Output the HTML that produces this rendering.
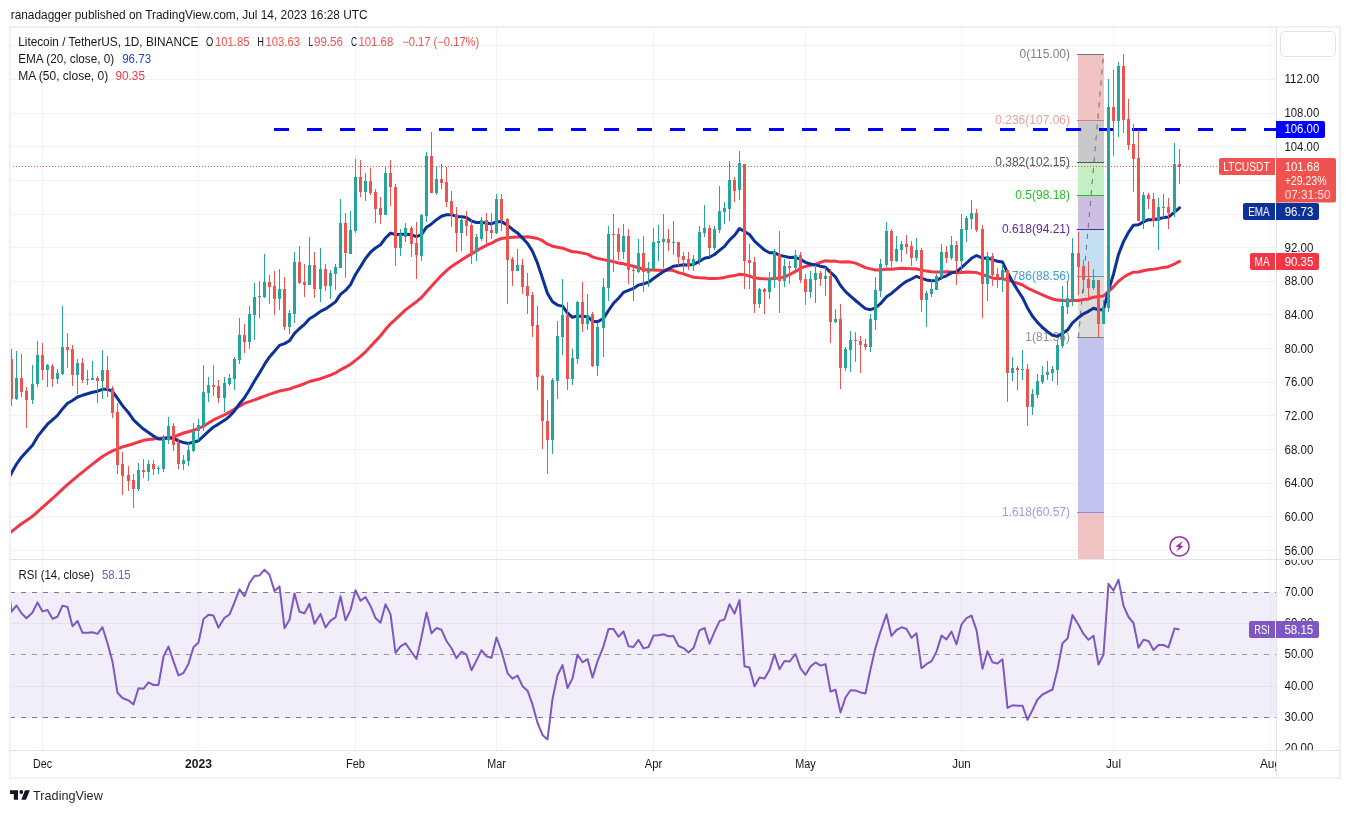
<!DOCTYPE html><html><head><meta charset="utf-8"><title>LTCUSDT</title><style>html,body{margin:0;padding:0;background:#fff;}body{width:1350px;height:813px;overflow:hidden;font-family:"Liberation Sans",sans-serif;}svg{display:block;will-change:transform}</style></head><body><svg width="1350" height="813" viewBox="0 0 1350 813" font-family="Liberation Sans, sans-serif" font-size="12">
<defs>
<clipPath id="cm"><rect x="10" y="27" width="1266" height="532"/></clipPath>
<clipPath id="cr"><rect x="10" y="560" width="1266" height="190"/></clipPath>
<clipPath id="cra"><rect x="1277" y="560" width="63" height="190"/></clipPath>
<clipPath id="ct"><rect x="10" y="751" width="1266" height="26"/></clipPath>
</defs>
<rect x="0" y="0" width="1350" height="813" fill="#ffffff"/>
<text x="10.70" y="19.00" fill="#131722" font-size="12.5" textLength="357.00" lengthAdjust="spacingAndGlyphs">ranadagger published on TradingView.com, Jul 14, 2023 16:28 UTC</text>
<g shape-rendering="crispEdges">
<rect x="42" y="27" width="1" height="532" fill="#f1f3f2"/>
<rect x="42" y="560" width="1" height="190" fill="#f1f3f2"/>
<rect x="198" y="27" width="1" height="532" fill="#f1f3f2"/>
<rect x="198" y="560" width="1" height="190" fill="#f1f3f2"/>
<rect x="355" y="27" width="1" height="532" fill="#f1f3f2"/>
<rect x="355" y="560" width="1" height="190" fill="#f1f3f2"/>
<rect x="496" y="27" width="1" height="532" fill="#f1f3f2"/>
<rect x="496" y="560" width="1" height="190" fill="#f1f3f2"/>
<rect x="653" y="27" width="1" height="532" fill="#f1f3f2"/>
<rect x="653" y="560" width="1" height="190" fill="#f1f3f2"/>
<rect x="805" y="27" width="1" height="532" fill="#f1f3f2"/>
<rect x="805" y="560" width="1" height="190" fill="#f1f3f2"/>
<rect x="961" y="27" width="1" height="532" fill="#f1f3f2"/>
<rect x="961" y="560" width="1" height="190" fill="#f1f3f2"/>
<rect x="1113" y="27" width="1" height="532" fill="#f1f3f2"/>
<rect x="1113" y="560" width="1" height="190" fill="#f1f3f2"/>
<rect x="1270" y="27" width="1" height="532" fill="#f1f3f2"/>
<rect x="1270" y="560" width="1" height="190" fill="#f1f3f2"/>
<rect x="10" y="45" width="1266" height="1" fill="#f1f3f2"/>
<rect x="10" y="79" width="1266" height="1" fill="#f1f3f2"/>
<rect x="10" y="113" width="1266" height="1" fill="#f1f3f2"/>
<rect x="10" y="146" width="1266" height="1" fill="#f1f3f2"/>
<rect x="10" y="180" width="1266" height="1" fill="#f1f3f2"/>
<rect x="10" y="214" width="1266" height="1" fill="#f1f3f2"/>
<rect x="10" y="247" width="1266" height="1" fill="#f1f3f2"/>
<rect x="10" y="281" width="1266" height="1" fill="#f1f3f2"/>
<rect x="10" y="314" width="1266" height="1" fill="#f1f3f2"/>
<rect x="10" y="348" width="1266" height="1" fill="#f1f3f2"/>
<rect x="10" y="382" width="1266" height="1" fill="#f1f3f2"/>
<rect x="10" y="415" width="1266" height="1" fill="#f1f3f2"/>
<rect x="10" y="449" width="1266" height="1" fill="#f1f3f2"/>
<rect x="10" y="483" width="1266" height="1" fill="#f1f3f2"/>
<rect x="10" y="516" width="1266" height="1" fill="#f1f3f2"/>
<rect x="10" y="550" width="1266" height="1" fill="#f1f3f2"/>
<rect x="10" y="623" width="1266" height="1" fill="#f1f3f2"/>
<rect x="10" y="686" width="1266" height="1" fill="#f1f3f2"/>
</g>
<rect x="10" y="592" width="1266" height="126" fill="#7e57c2" fill-opacity="0.1"/>
<g clip-path="url(#cm)">
<g shape-rendering="crispEdges">
<rect x="1078" y="54" width="26" height="66" fill="#f2c3c3"/>
<rect x="1078" y="120" width="26" height="42" fill="#c9c9cd"/>
<rect x="1078" y="162" width="26" height="33" fill="#c3efc3"/>
<rect x="1078" y="195" width="26" height="34" fill="#cdbfe1"/>
<rect x="1078" y="229" width="26" height="47" fill="#c5e0f3"/>
<rect x="1078" y="276" width="26" height="61" fill="#dcdcdc"/>
<rect x="1078" y="337" width="26" height="175" fill="#c3c3f0"/>
<rect x="1078" y="512" width="26" height="47" fill="#f1c2c2"/>
<rect x="1077" y="54" width="27" height="1" fill="#757575"/>
<rect x="1077" y="120" width="27" height="1" fill="#e0787b"/>
<rect x="1077" y="162" width="27" height="1" fill="#50535e"/>
<rect x="1077" y="195" width="27" height="1" fill="#22c322"/>
<rect x="1077" y="229" width="27" height="1" fill="#5b2a9d"/>
<rect x="1077" y="276" width="27" height="1" fill="#3d9bd8"/>
<rect x="1077" y="337" width="27" height="1" fill="#808080"/>
<rect x="1077" y="512" width="27" height="1" fill="#8a8ae0"/>
</g>
<line x1="1078.5" y1="337.5" x2="1103.5" y2="54.5" stroke="#75777f" stroke-width="1.1" stroke-dasharray="5 6"/>
<text x="1070.00" y="58.30" fill="#808080" font-size="12" text-anchor="end">0(115.00)</text>
<text x="1070.00" y="124.30" fill="#e8a0a0" font-size="12" text-anchor="end">0.236(107.06)</text>
<text x="1070.00" y="166.30" fill="#50535e" font-size="12" text-anchor="end">0.382(102.15)</text>
<text x="1070.00" y="199.30" fill="#22c322" font-size="12" text-anchor="end">0.5(98.18)</text>
<text x="1070.00" y="233.30" fill="#5b2a9d" font-size="12" text-anchor="end">0.618(94.21)</text>
<text x="1070.00" y="280.30" fill="#3d9bd8" font-size="12" text-anchor="end">0.786(88.56)</text>
<text x="1070.00" y="341.30" fill="#909090" font-size="12" text-anchor="end">1(81.36)</text>
<text x="1070.00" y="516.30" fill="#9c9ce6" font-size="12" text-anchor="end">1.618(60.57)</text>
</g>
<line x1="274" y1="129.5" x2="1276" y2="129.5" stroke="#0000ff" stroke-width="3" stroke-dasharray="15 18" shape-rendering="crispEdges"/>
<g clip-path="url(#cm)" fill="none" stroke-linejoin="round" stroke-linecap="round">
<path d="M6.5,535.5 L11.5,531.6 L16.5,527.6 L21.5,523.8 L26.5,520.5 L32.5,516.3 L37.5,511.8 L42.5,507.4 L47.5,502.9 L52.5,498.5 L57.5,493.9 L62.5,489.2 L67.5,484.7 L72.5,480.4 L77.5,476.1 L82.5,472.1 L87.5,468.1 L92.5,464.1 L97.5,460.3 L102.5,456.5 L107.5,453.5 L112.5,450.9 L117.5,448.8 L122.5,446.9 L128.5,445.2 L133.5,443.7 L138.5,442.0 L143.5,440.3 L148.5,439.6 L153.5,438.9 L158.5,438.3 L163.5,437.9 L168.5,437.5 L173.5,437.0 L178.5,435.0 L183.5,433.0 L188.5,431.7 L193.5,430.3 L198.5,428.3 L203.5,426.2 L208.5,423.1 L213.5,419.9 L218.5,417.5 L224.5,414.8 L229.5,412.2 L234.5,409.0 L239.5,406.1 L244.5,403.2 L249.5,401.6 L254.5,399.9 L259.5,398.0 L264.5,396.1 L269.5,394.4 L274.5,392.7 L279.5,391.0 L284.5,390.0 L289.5,389.0 L294.5,387.1 L299.5,385.5 L304.5,383.7 L309.5,381.5 L314.5,380.3 L320.5,378.7 L325.5,376.9 L330.5,375.1 L335.5,372.9 L340.5,369.8 L345.5,367.2 L350.5,364.2 L355.5,360.4 L360.5,356.4 L365.5,351.8 L370.5,346.4 L375.5,341.1 L380.5,335.7 L385.5,329.5 L390.5,323.8 L395.5,319.3 L400.5,314.7 L405.5,309.9 L411.5,305.4 L416.5,301.7 L421.5,297.5 L426.5,291.7 L431.5,286.3 L436.5,280.7 L441.5,275.3 L446.5,270.7 L451.5,266.5 L456.5,263.3 L461.5,260.0 L466.5,256.8 L471.5,253.9 L476.5,251.0 L481.5,247.8 L486.5,245.3 L491.5,243.2 L496.5,240.4 L501.5,238.5 L507.5,237.7 L512.5,237.2 L517.5,236.9 L522.5,236.9 L527.5,236.8 L532.5,237.5 L537.5,238.5 L542.5,240.7 L547.5,244.2 L552.5,246.2 L557.5,247.2 L562.5,248.2 L567.5,250.0 L572.5,251.8 L577.5,252.1 L582.5,253.1 L587.5,254.1 L592.5,256.9 L597.5,258.4 L603.5,259.6 L608.5,260.7 L613.5,261.6 L618.5,263.0 L623.5,263.8 L628.5,265.1 L633.5,266.2 L638.5,267.8 L643.5,269.5 L648.5,269.9 L653.5,270.1 L658.5,270.3 L663.5,270.3 L668.5,270.0 L673.5,270.6 L678.5,272.6 L683.5,273.9 L688.5,275.6 L693.5,277.2 L699.5,277.8 L704.5,278.1 L709.5,278.4 L714.5,278.5 L719.5,278.3 L724.5,277.4 L729.5,276.2 L734.5,275.6 L739.5,274.3 L744.5,274.8 L749.5,276.1 L754.5,277.8 L759.5,278.4 L764.5,278.8 L769.5,279.0 L774.5,278.4 L779.5,278.1 L784.5,276.9 L789.5,274.7 L795.5,271.4 L800.5,268.2 L805.5,266.4 L810.5,265.3 L815.5,264.4 L820.5,262.4 L825.5,260.8 L830.5,261.2 L835.5,261.1 L840.5,262.1 L845.5,261.8 L850.5,262.1 L855.5,263.1 L860.5,265.3 L865.5,267.6 L870.5,268.9 L875.5,270.0 L880.5,269.9 L886.5,269.1 L891.5,269.3 L896.5,268.8 L901.5,268.3 L906.5,268.4 L911.5,268.7 L916.5,269.0 L921.5,270.1 L926.5,271.1 L931.5,271.8 L936.5,272.1 L941.5,271.9 L946.5,271.8 L951.5,272.1 L956.5,272.7 L961.5,272.4 L966.5,272.1 L971.5,272.2 L976.5,272.6 L982.5,274.7 L987.5,276.0 L992.5,278.2 L997.5,278.5 L1002.5,278.7 L1007.5,280.0 L1012.5,281.6 L1017.5,283.2 L1022.5,285.0 L1027.5,288.1 L1032.5,290.4 L1037.5,292.7 L1042.5,294.8 L1047.5,297.2 L1052.5,299.0 L1057.5,300.1 L1062.5,300.6 L1067.5,301.1 L1072.5,300.6 L1078.5,300.4 L1083.5,299.5 L1088.5,298.9 L1093.5,297.2 L1098.5,296.6 L1103.5,296.0 L1108.5,291.3 L1113.5,286.8 L1118.5,281.3 L1123.5,277.3 L1128.5,274.3 L1133.5,272.2 L1138.5,272.0 L1143.5,270.7 L1148.5,269.7 L1153.5,269.2 L1158.5,268.4 L1163.5,267.4 L1168.5,266.7 L1174.5,264.0 L1179.5,261.4" stroke="#f23645" stroke-width="3"/>
<path d="M6.5,482.1 L11.5,473.1 L16.5,464.1 L21.5,457.2 L26.5,451.7 L32.5,445.3 L37.5,436.7 L42.5,430.3 L47.5,424.2 L52.5,419.8 L57.5,415.4 L62.5,408.9 L67.5,403.2 L72.5,400.5 L77.5,397.0 L82.5,395.3 L87.5,393.8 L92.5,392.3 L97.5,391.2 L102.5,389.3 L107.5,389.2 L112.5,391.3 L117.5,398.3 L122.5,405.6 L128.5,412.7 L133.5,419.9 L138.5,424.7 L143.5,429.1 L148.5,432.5 L153.5,435.9 L158.5,439.0 L163.5,439.0 L168.5,437.8 L173.5,438.4 L178.5,440.8 L183.5,442.6 L188.5,443.4 L193.5,442.3 L198.5,440.7 L203.5,436.1 L208.5,431.3 L213.5,427.0 L218.5,424.1 L224.5,420.3 L229.5,416.3 L234.5,410.9 L239.5,403.7 L244.5,397.8 L249.5,389.8 L254.5,381.0 L259.5,373.0 L264.5,364.4 L269.5,356.9 L274.5,351.3 L279.5,345.4 L284.5,343.6 L289.5,340.8 L294.5,333.3 L299.5,328.5 L304.5,324.3 L309.5,318.7 L314.5,315.8 L320.5,311.4 L325.5,308.9 L330.5,305.5 L335.5,301.9 L340.5,294.4 L345.5,290.4 L350.5,284.7 L355.5,274.5 L360.5,266.6 L365.5,258.5 L370.5,252.2 L375.5,248.0 L380.5,244.8 L385.5,238.0 L390.5,233.1 L395.5,234.5 L400.5,234.5 L405.5,233.9 L411.5,234.8 L416.5,236.7 L421.5,234.7 L426.5,227.2 L431.5,223.9 L436.5,219.7 L441.5,216.2 L446.5,214.7 L451.5,214.7 L456.5,216.4 L461.5,216.8 L466.5,217.6 L471.5,221.0 L476.5,222.6 L481.5,222.4 L486.5,223.1 L491.5,224.0 L496.5,221.7 L501.5,221.6 L507.5,225.1 L512.5,229.4 L517.5,232.9 L522.5,238.0 L527.5,243.4 L532.5,251.3 L537.5,263.2 L542.5,278.2 L547.5,293.5 L552.5,301.8 L557.5,305.1 L562.5,306.1 L567.5,313.0 L572.5,317.3 L577.5,315.9 L582.5,316.6 L587.5,316.5 L592.5,321.2 L597.5,321.8 L603.5,318.5 L608.5,310.5 L613.5,303.3 L618.5,298.3 L623.5,292.4 L628.5,290.3 L633.5,288.4 L638.5,285.1 L643.5,283.8 L648.5,282.3 L653.5,278.5 L658.5,275.0 L663.5,271.6 L668.5,268.8 L673.5,266.3 L678.5,265.4 L683.5,264.8 L688.5,264.9 L693.5,264.4 L699.5,261.3 L704.5,258.2 L709.5,257.2 L714.5,254.5 L719.5,250.4 L724.5,246.4 L729.5,240.1 L734.5,235.4 L739.5,228.5 L744.5,231.6 L749.5,234.5 L754.5,241.1 L759.5,245.7 L764.5,250.0 L769.5,252.7 L774.5,252.7 L779.5,255.3 L784.5,256.4 L789.5,257.5 L795.5,257.3 L800.5,259.4 L805.5,262.4 L810.5,264.0 L815.5,264.9 L820.5,266.2 L825.5,267.2 L830.5,272.4 L835.5,276.9 L840.5,285.5 L845.5,291.6 L850.5,296.2 L855.5,300.5 L860.5,304.7 L865.5,308.6 L870.5,309.7 L875.5,307.8 L880.5,303.7 L886.5,296.8 L891.5,293.4 L896.5,289.2 L901.5,284.9 L906.5,281.3 L911.5,279.0 L916.5,276.3 L921.5,278.4 L926.5,279.9 L931.5,280.8 L936.5,280.4 L941.5,277.7 L946.5,275.8 L951.5,272.9 L956.5,271.7 L961.5,267.7 L966.5,263.0 L971.5,258.3 L976.5,255.5 L982.5,258.2 L987.5,258.0 L992.5,259.6 L997.5,261.2 L1002.5,262.1 L1007.5,272.5 L1012.5,281.7 L1017.5,290.0 L1022.5,297.6 L1027.5,307.9 L1032.5,316.2 L1037.5,322.4 L1042.5,327.5 L1047.5,331.7 L1052.5,335.3 L1057.5,336.3 L1062.5,333.4 L1067.5,330.1 L1072.5,322.8 L1078.5,317.5 L1083.5,313.8 L1088.5,311.3 L1093.5,308.3 L1098.5,309.8 L1103.5,309.7 L1108.5,290.4 L1113.5,274.2 L1118.5,254.4 L1123.5,241.6 L1128.5,232.3 L1133.5,225.2 L1138.5,224.8 L1143.5,221.9 L1148.5,219.7 L1153.5,219.8 L1158.5,218.7 L1163.5,217.6 L1168.5,217.1 L1174.5,212.1 L1179.5,207.8" stroke="#0c3299" stroke-width="3"/>
</g>
<g shape-rendering="crispEdges" clip-path="url(#cm)">
<rect x="11" y="349" width="1" height="57" fill="#ef5350"/>
<rect x="10" y="359" width="3" height="40" fill="#ef5350"/>
<rect x="16" y="351" width="1" height="49" fill="#26a69a"/>
<rect x="15" y="378" width="3" height="21" fill="#26a69a"/>
<rect x="21" y="354" width="1" height="43" fill="#ef5350"/>
<rect x="20" y="378" width="3" height="14" fill="#ef5350"/>
<rect x="26" y="387" width="1" height="41" fill="#ef5350"/>
<rect x="25" y="391" width="3" height="9" fill="#ef5350"/>
<rect x="32" y="365" width="1" height="39" fill="#26a69a"/>
<rect x="31" y="384" width="3" height="16" fill="#26a69a"/>
<rect x="37" y="341" width="1" height="46" fill="#26a69a"/>
<rect x="36" y="355" width="3" height="29" fill="#26a69a"/>
<rect x="42" y="343" width="1" height="37" fill="#ef5350"/>
<rect x="41" y="355" width="3" height="15" fill="#ef5350"/>
<rect x="47" y="364" width="1" height="23" fill="#26a69a"/>
<rect x="46" y="365" width="3" height="5" fill="#26a69a"/>
<rect x="52" y="364" width="1" height="23" fill="#ef5350"/>
<rect x="51" y="366" width="3" height="13" fill="#ef5350"/>
<rect x="57" y="369" width="1" height="15" fill="#26a69a"/>
<rect x="56" y="373" width="3" height="6" fill="#26a69a"/>
<rect x="62" y="306" width="1" height="69" fill="#26a69a"/>
<rect x="61" y="347" width="3" height="27" fill="#26a69a"/>
<rect x="67" y="333" width="1" height="35" fill="#ef5350"/>
<rect x="66" y="347" width="3" height="3" fill="#ef5350"/>
<rect x="72" y="345" width="1" height="41" fill="#ef5350"/>
<rect x="71" y="349" width="3" height="26" fill="#ef5350"/>
<rect x="77" y="359" width="1" height="35" fill="#26a69a"/>
<rect x="76" y="363" width="3" height="12" fill="#26a69a"/>
<rect x="82" y="358" width="1" height="25" fill="#ef5350"/>
<rect x="81" y="363" width="3" height="17" fill="#ef5350"/>
<rect x="87" y="370" width="1" height="15" fill="#26a69a"/>
<rect x="86" y="379" width="3" height="1" fill="#26a69a"/>
<rect x="92" y="361" width="1" height="19" fill="#26a69a"/>
<rect x="91" y="378" width="3" height="2" fill="#26a69a"/>
<rect x="97" y="376" width="1" height="27" fill="#ef5350"/>
<rect x="96" y="378" width="3" height="3" fill="#ef5350"/>
<rect x="102" y="350" width="1" height="49" fill="#26a69a"/>
<rect x="101" y="370" width="3" height="11" fill="#26a69a"/>
<rect x="107" y="356" width="1" height="41" fill="#ef5350"/>
<rect x="106" y="370" width="3" height="19" fill="#ef5350"/>
<rect x="112" y="386" width="1" height="32" fill="#ef5350"/>
<rect x="111" y="388" width="3" height="25" fill="#ef5350"/>
<rect x="117" y="403" width="1" height="71" fill="#ef5350"/>
<rect x="116" y="412" width="3" height="53" fill="#ef5350"/>
<rect x="122" y="452" width="1" height="43" fill="#ef5350"/>
<rect x="121" y="464" width="3" height="12" fill="#ef5350"/>
<rect x="128" y="466" width="1" height="25" fill="#ef5350"/>
<rect x="127" y="475" width="3" height="6" fill="#ef5350"/>
<rect x="133" y="474" width="1" height="34" fill="#ef5350"/>
<rect x="132" y="480" width="3" height="9" fill="#ef5350"/>
<rect x="138" y="463" width="1" height="28" fill="#26a69a"/>
<rect x="137" y="470" width="3" height="19" fill="#26a69a"/>
<rect x="143" y="459" width="1" height="19" fill="#ef5350"/>
<rect x="142" y="470" width="3" height="2" fill="#ef5350"/>
<rect x="148" y="460" width="1" height="21" fill="#26a69a"/>
<rect x="147" y="464" width="3" height="8" fill="#26a69a"/>
<rect x="153" y="460" width="1" height="15" fill="#ef5350"/>
<rect x="152" y="464" width="3" height="5" fill="#ef5350"/>
<rect x="158" y="466" width="1" height="8" fill="#26a69a"/>
<rect x="157" y="468" width="3" height="1" fill="#26a69a"/>
<rect x="163" y="435" width="1" height="37" fill="#26a69a"/>
<rect x="162" y="438" width="3" height="31" fill="#26a69a"/>
<rect x="168" y="417" width="1" height="27" fill="#26a69a"/>
<rect x="167" y="426" width="3" height="14" fill="#26a69a"/>
<rect x="173" y="423" width="1" height="28" fill="#ef5350"/>
<rect x="172" y="426" width="3" height="19" fill="#ef5350"/>
<rect x="178" y="438" width="1" height="31" fill="#ef5350"/>
<rect x="177" y="443" width="3" height="21" fill="#ef5350"/>
<rect x="183" y="455" width="1" height="15" fill="#26a69a"/>
<rect x="182" y="460" width="3" height="4" fill="#26a69a"/>
<rect x="188" y="443" width="1" height="23" fill="#26a69a"/>
<rect x="187" y="450" width="3" height="11" fill="#26a69a"/>
<rect x="193" y="423" width="1" height="29" fill="#26a69a"/>
<rect x="192" y="431" width="3" height="20" fill="#26a69a"/>
<rect x="198" y="419" width="1" height="22" fill="#26a69a"/>
<rect x="197" y="425" width="3" height="6" fill="#26a69a"/>
<rect x="203" y="365" width="1" height="66" fill="#26a69a"/>
<rect x="202" y="392" width="3" height="34" fill="#26a69a"/>
<rect x="208" y="377" width="1" height="25" fill="#26a69a"/>
<rect x="207" y="385" width="3" height="8" fill="#26a69a"/>
<rect x="213" y="365" width="1" height="31" fill="#ef5350"/>
<rect x="212" y="385" width="3" height="2" fill="#ef5350"/>
<rect x="218" y="380" width="1" height="23" fill="#ef5350"/>
<rect x="217" y="386" width="3" height="12" fill="#ef5350"/>
<rect x="224" y="377" width="1" height="35" fill="#26a69a"/>
<rect x="223" y="383" width="3" height="15" fill="#26a69a"/>
<rect x="229" y="374" width="1" height="12" fill="#26a69a"/>
<rect x="228" y="378" width="3" height="6" fill="#26a69a"/>
<rect x="234" y="357" width="1" height="33" fill="#26a69a"/>
<rect x="233" y="359" width="3" height="20" fill="#26a69a"/>
<rect x="239" y="318" width="1" height="46" fill="#26a69a"/>
<rect x="238" y="335" width="3" height="25" fill="#26a69a"/>
<rect x="244" y="324" width="1" height="29" fill="#ef5350"/>
<rect x="243" y="335" width="3" height="7" fill="#ef5350"/>
<rect x="249" y="306" width="1" height="43" fill="#26a69a"/>
<rect x="248" y="314" width="3" height="28" fill="#26a69a"/>
<rect x="254" y="283" width="1" height="57" fill="#26a69a"/>
<rect x="253" y="297" width="3" height="18" fill="#26a69a"/>
<rect x="259" y="281" width="1" height="37" fill="#26a69a"/>
<rect x="258" y="296" width="3" height="1" fill="#26a69a"/>
<rect x="264" y="254" width="1" height="44" fill="#26a69a"/>
<rect x="263" y="282" width="3" height="15" fill="#26a69a"/>
<rect x="269" y="275" width="1" height="29" fill="#ef5350"/>
<rect x="268" y="282" width="3" height="5" fill="#ef5350"/>
<rect x="274" y="271" width="1" height="44" fill="#ef5350"/>
<rect x="273" y="286" width="3" height="13" fill="#ef5350"/>
<rect x="279" y="269" width="1" height="41" fill="#26a69a"/>
<rect x="278" y="289" width="3" height="10" fill="#26a69a"/>
<rect x="284" y="277" width="1" height="53" fill="#ef5350"/>
<rect x="283" y="289" width="3" height="38" fill="#ef5350"/>
<rect x="289" y="310" width="1" height="24" fill="#26a69a"/>
<rect x="288" y="313" width="3" height="14" fill="#26a69a"/>
<rect x="294" y="252" width="1" height="71" fill="#26a69a"/>
<rect x="293" y="262" width="3" height="52" fill="#26a69a"/>
<rect x="299" y="246" width="1" height="38" fill="#ef5350"/>
<rect x="298" y="262" width="3" height="21" fill="#ef5350"/>
<rect x="304" y="264" width="1" height="33" fill="#ef5350"/>
<rect x="303" y="282" width="3" height="3" fill="#ef5350"/>
<rect x="309" y="237" width="1" height="48" fill="#26a69a"/>
<rect x="308" y="265" width="3" height="20" fill="#26a69a"/>
<rect x="314" y="252" width="1" height="46" fill="#ef5350"/>
<rect x="313" y="265" width="3" height="24" fill="#ef5350"/>
<rect x="320" y="248" width="1" height="54" fill="#26a69a"/>
<rect x="319" y="269" width="3" height="20" fill="#26a69a"/>
<rect x="325" y="264" width="1" height="27" fill="#ef5350"/>
<rect x="324" y="269" width="3" height="17" fill="#ef5350"/>
<rect x="330" y="270" width="1" height="29" fill="#26a69a"/>
<rect x="329" y="273" width="3" height="13" fill="#26a69a"/>
<rect x="335" y="264" width="1" height="26" fill="#26a69a"/>
<rect x="334" y="267" width="3" height="7" fill="#26a69a"/>
<rect x="340" y="199" width="1" height="69" fill="#26a69a"/>
<rect x="339" y="223" width="3" height="45" fill="#26a69a"/>
<rect x="345" y="213" width="1" height="65" fill="#ef5350"/>
<rect x="344" y="223" width="3" height="30" fill="#ef5350"/>
<rect x="350" y="211" width="1" height="43" fill="#26a69a"/>
<rect x="349" y="230" width="3" height="24" fill="#26a69a"/>
<rect x="355" y="159" width="1" height="74" fill="#26a69a"/>
<rect x="354" y="177" width="3" height="54" fill="#26a69a"/>
<rect x="360" y="160" width="1" height="37" fill="#ef5350"/>
<rect x="359" y="177" width="3" height="15" fill="#ef5350"/>
<rect x="365" y="173" width="1" height="28" fill="#26a69a"/>
<rect x="364" y="181" width="3" height="11" fill="#26a69a"/>
<rect x="370" y="168" width="1" height="27" fill="#ef5350"/>
<rect x="369" y="181" width="3" height="12" fill="#ef5350"/>
<rect x="375" y="189" width="1" height="34" fill="#ef5350"/>
<rect x="374" y="192" width="3" height="17" fill="#ef5350"/>
<rect x="380" y="197" width="1" height="27" fill="#ef5350"/>
<rect x="379" y="208" width="3" height="7" fill="#ef5350"/>
<rect x="385" y="166" width="1" height="49" fill="#26a69a"/>
<rect x="384" y="173" width="3" height="42" fill="#26a69a"/>
<rect x="390" y="160" width="1" height="46" fill="#ef5350"/>
<rect x="389" y="173" width="3" height="14" fill="#ef5350"/>
<rect x="395" y="184" width="1" height="82" fill="#ef5350"/>
<rect x="394" y="187" width="3" height="61" fill="#ef5350"/>
<rect x="400" y="229" width="1" height="27" fill="#26a69a"/>
<rect x="399" y="234" width="3" height="14" fill="#26a69a"/>
<rect x="405" y="223" width="1" height="19" fill="#26a69a"/>
<rect x="404" y="228" width="3" height="9" fill="#26a69a"/>
<rect x="411" y="226" width="1" height="31" fill="#ef5350"/>
<rect x="410" y="228" width="3" height="16" fill="#ef5350"/>
<rect x="416" y="222" width="1" height="57" fill="#ef5350"/>
<rect x="415" y="243" width="3" height="12" fill="#ef5350"/>
<rect x="421" y="214" width="1" height="47" fill="#26a69a"/>
<rect x="420" y="215" width="3" height="41" fill="#26a69a"/>
<rect x="426" y="152" width="1" height="70" fill="#26a69a"/>
<rect x="425" y="156" width="3" height="60" fill="#26a69a"/>
<rect x="431" y="132" width="1" height="61" fill="#ef5350"/>
<rect x="430" y="156" width="3" height="37" fill="#ef5350"/>
<rect x="436" y="166" width="1" height="29" fill="#26a69a"/>
<rect x="435" y="179" width="3" height="14" fill="#26a69a"/>
<rect x="441" y="164" width="1" height="25" fill="#ef5350"/>
<rect x="440" y="179" width="3" height="4" fill="#ef5350"/>
<rect x="446" y="167" width="1" height="40" fill="#ef5350"/>
<rect x="445" y="182" width="3" height="20" fill="#ef5350"/>
<rect x="451" y="191" width="1" height="36" fill="#ef5350"/>
<rect x="450" y="201" width="3" height="14" fill="#ef5350"/>
<rect x="456" y="207" width="1" height="45" fill="#ef5350"/>
<rect x="455" y="214" width="3" height="19" fill="#ef5350"/>
<rect x="461" y="217" width="1" height="34" fill="#26a69a"/>
<rect x="460" y="220" width="3" height="13" fill="#26a69a"/>
<rect x="466" y="211" width="1" height="25" fill="#ef5350"/>
<rect x="465" y="220" width="3" height="6" fill="#ef5350"/>
<rect x="471" y="220" width="1" height="44" fill="#ef5350"/>
<rect x="470" y="225" width="3" height="29" fill="#ef5350"/>
<rect x="476" y="234" width="1" height="27" fill="#26a69a"/>
<rect x="475" y="237" width="3" height="15" fill="#26a69a"/>
<rect x="481" y="217" width="1" height="24" fill="#26a69a"/>
<rect x="480" y="220" width="3" height="19" fill="#26a69a"/>
<rect x="486" y="213" width="1" height="31" fill="#ef5350"/>
<rect x="485" y="220" width="3" height="11" fill="#ef5350"/>
<rect x="491" y="213" width="1" height="26" fill="#ef5350"/>
<rect x="490" y="230" width="3" height="3" fill="#ef5350"/>
<rect x="496" y="194" width="1" height="40" fill="#26a69a"/>
<rect x="495" y="199" width="3" height="34" fill="#26a69a"/>
<rect x="501" y="194" width="1" height="37" fill="#ef5350"/>
<rect x="500" y="199" width="3" height="22" fill="#ef5350"/>
<rect x="507" y="218" width="1" height="86" fill="#ef5350"/>
<rect x="506" y="219" width="3" height="41" fill="#ef5350"/>
<rect x="512" y="257" width="1" height="29" fill="#ef5350"/>
<rect x="511" y="259" width="3" height="12" fill="#ef5350"/>
<rect x="517" y="249" width="1" height="22" fill="#26a69a"/>
<rect x="516" y="265" width="3" height="6" fill="#26a69a"/>
<rect x="522" y="259" width="1" height="35" fill="#ef5350"/>
<rect x="521" y="265" width="3" height="22" fill="#ef5350"/>
<rect x="527" y="273" width="1" height="41" fill="#ef5350"/>
<rect x="526" y="286" width="3" height="10" fill="#ef5350"/>
<rect x="532" y="292" width="1" height="45" fill="#ef5350"/>
<rect x="531" y="295" width="3" height="31" fill="#ef5350"/>
<rect x="537" y="306" width="1" height="84" fill="#ef5350"/>
<rect x="536" y="325" width="3" height="52" fill="#ef5350"/>
<rect x="542" y="375" width="1" height="74" fill="#ef5350"/>
<rect x="541" y="376" width="3" height="45" fill="#ef5350"/>
<rect x="547" y="400" width="1" height="74" fill="#ef5350"/>
<rect x="546" y="421" width="3" height="19" fill="#ef5350"/>
<rect x="552" y="378" width="1" height="76" fill="#26a69a"/>
<rect x="551" y="380" width="3" height="60" fill="#26a69a"/>
<rect x="557" y="321" width="1" height="78" fill="#26a69a"/>
<rect x="556" y="336" width="3" height="45" fill="#26a69a"/>
<rect x="562" y="279" width="1" height="76" fill="#26a69a"/>
<rect x="561" y="315" width="3" height="22" fill="#26a69a"/>
<rect x="567" y="302" width="1" height="88" fill="#ef5350"/>
<rect x="566" y="315" width="3" height="64" fill="#ef5350"/>
<rect x="572" y="349" width="1" height="36" fill="#26a69a"/>
<rect x="571" y="358" width="3" height="21" fill="#26a69a"/>
<rect x="577" y="301" width="1" height="63" fill="#26a69a"/>
<rect x="576" y="302" width="3" height="57" fill="#26a69a"/>
<rect x="582" y="282" width="1" height="50" fill="#ef5350"/>
<rect x="581" y="302" width="3" height="22" fill="#ef5350"/>
<rect x="587" y="294" width="1" height="36" fill="#26a69a"/>
<rect x="586" y="315" width="3" height="9" fill="#26a69a"/>
<rect x="592" y="312" width="1" height="55" fill="#ef5350"/>
<rect x="591" y="314" width="3" height="52" fill="#ef5350"/>
<rect x="597" y="323" width="1" height="53" fill="#26a69a"/>
<rect x="596" y="327" width="3" height="39" fill="#26a69a"/>
<rect x="603" y="278" width="1" height="79" fill="#26a69a"/>
<rect x="602" y="287" width="3" height="41" fill="#26a69a"/>
<rect x="608" y="226" width="1" height="75" fill="#26a69a"/>
<rect x="607" y="234" width="3" height="54" fill="#26a69a"/>
<rect x="613" y="214" width="1" height="58" fill="#ef5350"/>
<rect x="612" y="234" width="3" height="1" fill="#ef5350"/>
<rect x="618" y="228" width="1" height="32" fill="#ef5350"/>
<rect x="617" y="234" width="3" height="18" fill="#ef5350"/>
<rect x="623" y="224" width="1" height="35" fill="#26a69a"/>
<rect x="622" y="236" width="3" height="16" fill="#26a69a"/>
<rect x="628" y="229" width="1" height="55" fill="#ef5350"/>
<rect x="627" y="236" width="3" height="34" fill="#ef5350"/>
<rect x="633" y="267" width="1" height="34" fill="#ef5350"/>
<rect x="632" y="270" width="3" height="1" fill="#ef5350"/>
<rect x="638" y="239" width="1" height="34" fill="#26a69a"/>
<rect x="637" y="253" width="3" height="19" fill="#26a69a"/>
<rect x="643" y="236" width="1" height="56" fill="#ef5350"/>
<rect x="642" y="253" width="3" height="19" fill="#ef5350"/>
<rect x="648" y="262" width="1" height="25" fill="#26a69a"/>
<rect x="647" y="268" width="3" height="5" fill="#26a69a"/>
<rect x="653" y="228" width="1" height="42" fill="#26a69a"/>
<rect x="652" y="242" width="3" height="27" fill="#26a69a"/>
<rect x="658" y="225" width="1" height="36" fill="#26a69a"/>
<rect x="657" y="241" width="3" height="2" fill="#26a69a"/>
<rect x="663" y="214" width="1" height="54" fill="#26a69a"/>
<rect x="662" y="239" width="3" height="3" fill="#26a69a"/>
<rect x="668" y="229" width="1" height="22" fill="#ef5350"/>
<rect x="667" y="239" width="3" height="4" fill="#ef5350"/>
<rect x="673" y="221" width="1" height="34" fill="#26a69a"/>
<rect x="672" y="242" width="3" height="1" fill="#26a69a"/>
<rect x="678" y="242" width="1" height="24" fill="#ef5350"/>
<rect x="677" y="242" width="3" height="15" fill="#ef5350"/>
<rect x="683" y="252" width="1" height="21" fill="#ef5350"/>
<rect x="682" y="256" width="3" height="4" fill="#ef5350"/>
<rect x="688" y="252" width="1" height="18" fill="#ef5350"/>
<rect x="687" y="259" width="3" height="7" fill="#ef5350"/>
<rect x="693" y="255" width="1" height="16" fill="#26a69a"/>
<rect x="692" y="259" width="3" height="7" fill="#26a69a"/>
<rect x="699" y="226" width="1" height="39" fill="#26a69a"/>
<rect x="698" y="232" width="3" height="28" fill="#26a69a"/>
<rect x="704" y="205" width="1" height="32" fill="#26a69a"/>
<rect x="703" y="228" width="3" height="5" fill="#26a69a"/>
<rect x="709" y="225" width="1" height="32" fill="#ef5350"/>
<rect x="708" y="228" width="3" height="20" fill="#ef5350"/>
<rect x="714" y="226" width="1" height="24" fill="#26a69a"/>
<rect x="713" y="229" width="3" height="19" fill="#26a69a"/>
<rect x="719" y="186" width="1" height="47" fill="#26a69a"/>
<rect x="718" y="211" width="3" height="19" fill="#26a69a"/>
<rect x="724" y="202" width="1" height="22" fill="#26a69a"/>
<rect x="723" y="208" width="3" height="4" fill="#26a69a"/>
<rect x="729" y="161" width="1" height="60" fill="#26a69a"/>
<rect x="728" y="180" width="3" height="29" fill="#26a69a"/>
<rect x="734" y="177" width="1" height="25" fill="#ef5350"/>
<rect x="733" y="180" width="3" height="11" fill="#ef5350"/>
<rect x="739" y="151" width="1" height="49" fill="#26a69a"/>
<rect x="738" y="163" width="3" height="27" fill="#26a69a"/>
<rect x="744" y="164" width="1" height="125" fill="#ef5350"/>
<rect x="743" y="164" width="3" height="97" fill="#ef5350"/>
<rect x="749" y="244" width="1" height="45" fill="#ef5350"/>
<rect x="748" y="260" width="3" height="3" fill="#ef5350"/>
<rect x="754" y="257" width="1" height="56" fill="#ef5350"/>
<rect x="753" y="262" width="3" height="42" fill="#ef5350"/>
<rect x="759" y="288" width="1" height="20" fill="#26a69a"/>
<rect x="758" y="289" width="3" height="15" fill="#26a69a"/>
<rect x="764" y="288" width="1" height="26" fill="#ef5350"/>
<rect x="763" y="289" width="3" height="3" fill="#ef5350"/>
<rect x="769" y="272" width="1" height="27" fill="#26a69a"/>
<rect x="768" y="278" width="3" height="14" fill="#26a69a"/>
<rect x="774" y="249" width="1" height="39" fill="#26a69a"/>
<rect x="773" y="252" width="3" height="27" fill="#26a69a"/>
<rect x="779" y="231" width="1" height="82" fill="#ef5350"/>
<rect x="778" y="254" width="3" height="27" fill="#ef5350"/>
<rect x="784" y="259" width="1" height="28" fill="#26a69a"/>
<rect x="783" y="266" width="3" height="15" fill="#26a69a"/>
<rect x="789" y="261" width="1" height="23" fill="#ef5350"/>
<rect x="788" y="266" width="3" height="2" fill="#ef5350"/>
<rect x="795" y="250" width="1" height="20" fill="#26a69a"/>
<rect x="794" y="255" width="3" height="13" fill="#26a69a"/>
<rect x="800" y="252" width="1" height="31" fill="#ef5350"/>
<rect x="799" y="255" width="3" height="25" fill="#ef5350"/>
<rect x="805" y="274" width="1" height="31" fill="#ef5350"/>
<rect x="804" y="279" width="3" height="13" fill="#ef5350"/>
<rect x="810" y="271" width="1" height="27" fill="#26a69a"/>
<rect x="809" y="279" width="3" height="13" fill="#26a69a"/>
<rect x="815" y="265" width="1" height="38" fill="#26a69a"/>
<rect x="814" y="273" width="3" height="7" fill="#26a69a"/>
<rect x="820" y="271" width="1" height="15" fill="#ef5350"/>
<rect x="819" y="273" width="3" height="6" fill="#ef5350"/>
<rect x="825" y="267" width="1" height="29" fill="#26a69a"/>
<rect x="824" y="276" width="3" height="3" fill="#26a69a"/>
<rect x="830" y="269" width="1" height="74" fill="#ef5350"/>
<rect x="829" y="276" width="3" height="46" fill="#ef5350"/>
<rect x="835" y="309" width="1" height="14" fill="#26a69a"/>
<rect x="834" y="319" width="3" height="3" fill="#26a69a"/>
<rect x="840" y="304" width="1" height="85" fill="#ef5350"/>
<rect x="839" y="319" width="3" height="49" fill="#ef5350"/>
<rect x="845" y="347" width="1" height="24" fill="#26a69a"/>
<rect x="844" y="349" width="3" height="19" fill="#26a69a"/>
<rect x="850" y="331" width="1" height="41" fill="#26a69a"/>
<rect x="849" y="340" width="3" height="10" fill="#26a69a"/>
<rect x="855" y="332" width="1" height="30" fill="#ef5350"/>
<rect x="854" y="340" width="3" height="1" fill="#ef5350"/>
<rect x="860" y="336" width="1" height="37" fill="#ef5350"/>
<rect x="859" y="341" width="3" height="4" fill="#ef5350"/>
<rect x="865" y="339" width="1" height="11" fill="#ef5350"/>
<rect x="864" y="344" width="3" height="3" fill="#ef5350"/>
<rect x="870" y="314" width="1" height="38" fill="#26a69a"/>
<rect x="869" y="319" width="3" height="28" fill="#26a69a"/>
<rect x="875" y="277" width="1" height="53" fill="#26a69a"/>
<rect x="874" y="290" width="3" height="30" fill="#26a69a"/>
<rect x="880" y="259" width="1" height="38" fill="#26a69a"/>
<rect x="879" y="264" width="3" height="27" fill="#26a69a"/>
<rect x="886" y="222" width="1" height="45" fill="#26a69a"/>
<rect x="885" y="231" width="3" height="34" fill="#26a69a"/>
<rect x="891" y="229" width="1" height="42" fill="#ef5350"/>
<rect x="890" y="231" width="3" height="30" fill="#ef5350"/>
<rect x="896" y="236" width="1" height="26" fill="#26a69a"/>
<rect x="895" y="249" width="3" height="12" fill="#26a69a"/>
<rect x="901" y="241" width="1" height="21" fill="#26a69a"/>
<rect x="900" y="244" width="3" height="6" fill="#26a69a"/>
<rect x="906" y="235" width="1" height="19" fill="#ef5350"/>
<rect x="905" y="244" width="3" height="3" fill="#ef5350"/>
<rect x="911" y="241" width="1" height="25" fill="#ef5350"/>
<rect x="910" y="246" width="3" height="12" fill="#ef5350"/>
<rect x="916" y="238" width="1" height="23" fill="#26a69a"/>
<rect x="915" y="250" width="3" height="8" fill="#26a69a"/>
<rect x="921" y="248" width="1" height="64" fill="#ef5350"/>
<rect x="920" y="250" width="3" height="50" fill="#ef5350"/>
<rect x="926" y="291" width="1" height="36" fill="#26a69a"/>
<rect x="925" y="293" width="3" height="7" fill="#26a69a"/>
<rect x="931" y="279" width="1" height="18" fill="#26a69a"/>
<rect x="930" y="289" width="3" height="5" fill="#26a69a"/>
<rect x="936" y="274" width="1" height="16" fill="#26a69a"/>
<rect x="935" y="276" width="3" height="14" fill="#26a69a"/>
<rect x="941" y="244" width="1" height="36" fill="#26a69a"/>
<rect x="940" y="252" width="3" height="25" fill="#26a69a"/>
<rect x="946" y="246" width="1" height="17" fill="#ef5350"/>
<rect x="945" y="252" width="3" height="6" fill="#ef5350"/>
<rect x="951" y="236" width="1" height="24" fill="#26a69a"/>
<rect x="950" y="245" width="3" height="13" fill="#26a69a"/>
<rect x="956" y="241" width="1" height="44" fill="#ef5350"/>
<rect x="955" y="245" width="3" height="16" fill="#ef5350"/>
<rect x="961" y="214" width="1" height="57" fill="#26a69a"/>
<rect x="960" y="229" width="3" height="32" fill="#26a69a"/>
<rect x="966" y="216" width="1" height="26" fill="#26a69a"/>
<rect x="965" y="218" width="3" height="12" fill="#26a69a"/>
<rect x="971" y="200" width="1" height="29" fill="#26a69a"/>
<rect x="970" y="213" width="3" height="6" fill="#26a69a"/>
<rect x="976" y="209" width="1" height="23" fill="#ef5350"/>
<rect x="975" y="213" width="3" height="17" fill="#ef5350"/>
<rect x="982" y="225" width="1" height="93" fill="#ef5350"/>
<rect x="981" y="229" width="3" height="55" fill="#ef5350"/>
<rect x="987" y="252" width="1" height="49" fill="#26a69a"/>
<rect x="986" y="256" width="3" height="28" fill="#26a69a"/>
<rect x="992" y="253" width="1" height="33" fill="#ef5350"/>
<rect x="991" y="256" width="3" height="19" fill="#ef5350"/>
<rect x="997" y="268" width="1" height="20" fill="#ef5350"/>
<rect x="996" y="274" width="3" height="3" fill="#ef5350"/>
<rect x="1002" y="264" width="1" height="28" fill="#26a69a"/>
<rect x="1001" y="270" width="3" height="8" fill="#26a69a"/>
<rect x="1007" y="270" width="1" height="132" fill="#ef5350"/>
<rect x="1006" y="270" width="3" height="103" fill="#ef5350"/>
<rect x="1012" y="357" width="1" height="24" fill="#26a69a"/>
<rect x="1011" y="368" width="3" height="5" fill="#26a69a"/>
<rect x="1017" y="366" width="1" height="24" fill="#ef5350"/>
<rect x="1016" y="368" width="3" height="2" fill="#ef5350"/>
<rect x="1022" y="350" width="1" height="30" fill="#26a69a"/>
<rect x="1021" y="369" width="3" height="1" fill="#26a69a"/>
<rect x="1027" y="364" width="1" height="62" fill="#ef5350"/>
<rect x="1026" y="369" width="3" height="38" fill="#ef5350"/>
<rect x="1032" y="389" width="1" height="26" fill="#26a69a"/>
<rect x="1031" y="394" width="3" height="13" fill="#26a69a"/>
<rect x="1037" y="374" width="1" height="24" fill="#26a69a"/>
<rect x="1036" y="381" width="3" height="14" fill="#26a69a"/>
<rect x="1042" y="366" width="1" height="18" fill="#26a69a"/>
<rect x="1041" y="375" width="3" height="7" fill="#26a69a"/>
<rect x="1047" y="361" width="1" height="19" fill="#26a69a"/>
<rect x="1046" y="372" width="3" height="3" fill="#26a69a"/>
<rect x="1052" y="366" width="1" height="15" fill="#26a69a"/>
<rect x="1051" y="369" width="3" height="4" fill="#26a69a"/>
<rect x="1057" y="340" width="1" height="45" fill="#26a69a"/>
<rect x="1056" y="345" width="3" height="25" fill="#26a69a"/>
<rect x="1062" y="286" width="1" height="62" fill="#26a69a"/>
<rect x="1061" y="306" width="3" height="40" fill="#26a69a"/>
<rect x="1067" y="281" width="1" height="33" fill="#26a69a"/>
<rect x="1066" y="298" width="3" height="9" fill="#26a69a"/>
<rect x="1072" y="238" width="1" height="68" fill="#26a69a"/>
<rect x="1071" y="253" width="3" height="46" fill="#26a69a"/>
<rect x="1078" y="232" width="1" height="63" fill="#ef5350"/>
<rect x="1077" y="253" width="3" height="14" fill="#ef5350"/>
<rect x="1083" y="260" width="1" height="33" fill="#ef5350"/>
<rect x="1082" y="266" width="3" height="14" fill="#ef5350"/>
<rect x="1088" y="261" width="1" height="38" fill="#ef5350"/>
<rect x="1087" y="279" width="3" height="9" fill="#ef5350"/>
<rect x="1093" y="269" width="1" height="21" fill="#26a69a"/>
<rect x="1092" y="280" width="3" height="8" fill="#26a69a"/>
<rect x="1098" y="280" width="1" height="57" fill="#ef5350"/>
<rect x="1097" y="280" width="3" height="44" fill="#ef5350"/>
<rect x="1103" y="300" width="1" height="24" fill="#26a69a"/>
<rect x="1102" y="308" width="3" height="16" fill="#26a69a"/>
<rect x="1108" y="79" width="1" height="233" fill="#26a69a"/>
<rect x="1107" y="107" width="3" height="201" fill="#26a69a"/>
<rect x="1113" y="70" width="1" height="86" fill="#ef5350"/>
<rect x="1112" y="107" width="3" height="14" fill="#ef5350"/>
<rect x="1118" y="62" width="1" height="75" fill="#26a69a"/>
<rect x="1117" y="66" width="3" height="55" fill="#26a69a"/>
<rect x="1123" y="54" width="1" height="79" fill="#ef5350"/>
<rect x="1122" y="66" width="3" height="54" fill="#ef5350"/>
<rect x="1128" y="99" width="1" height="51" fill="#ef5350"/>
<rect x="1127" y="119" width="3" height="26" fill="#ef5350"/>
<rect x="1133" y="124" width="1" height="68" fill="#ef5350"/>
<rect x="1132" y="144" width="3" height="15" fill="#ef5350"/>
<rect x="1138" y="130" width="1" height="91" fill="#ef5350"/>
<rect x="1137" y="158" width="3" height="63" fill="#ef5350"/>
<rect x="1143" y="192" width="1" height="37" fill="#26a69a"/>
<rect x="1142" y="195" width="3" height="26" fill="#26a69a"/>
<rect x="1148" y="193" width="1" height="16" fill="#ef5350"/>
<rect x="1147" y="195" width="3" height="4" fill="#ef5350"/>
<rect x="1153" y="193" width="1" height="34" fill="#ef5350"/>
<rect x="1152" y="199" width="3" height="22" fill="#ef5350"/>
<rect x="1158" y="198" width="1" height="52" fill="#26a69a"/>
<rect x="1157" y="207" width="3" height="14" fill="#26a69a"/>
<rect x="1163" y="194" width="1" height="24" fill="#26a69a"/>
<rect x="1162" y="207" width="3" height="1" fill="#26a69a"/>
<rect x="1168" y="198" width="1" height="31" fill="#ef5350"/>
<rect x="1167" y="207" width="3" height="6" fill="#ef5350"/>
<rect x="1174" y="143" width="1" height="74" fill="#26a69a"/>
<rect x="1173" y="164" width="3" height="49" fill="#26a69a"/>
<rect x="1179" y="149" width="1" height="35" fill="#ef5350"/>
<rect x="1178" y="164" width="3" height="3" fill="#ef5350"/>
</g>
<g shape-rendering="crispEdges">
<line x1="10" y1="166.5" x2="1276" y2="166.5" stroke="#ef5350" stroke-width="1" stroke-dasharray="1 2"/>
</g>
<g shape-rendering="crispEdges">
<line x1="10.3" y1="592.5" x2="1276" y2="592.5" stroke="#787b86" stroke-width="1" stroke-dasharray="5 6"/>
<line x1="10.3" y1="717.5" x2="1276" y2="717.5" stroke="#787b86" stroke-width="1" stroke-dasharray="5 6"/>
<line x1="10.3" y1="654.5" x2="1276" y2="654.5" stroke="#9598a1" stroke-width="1" stroke-dasharray="5 6"/>
</g>
<path d="M6.5,573.5 L11.5,611.7 L16.5,605.5 L21.5,613.2 L26.5,618.2 L32.5,612.5 L37.5,602.4 L42.5,611.4 L47.5,610.0 L52.5,618.7 L57.5,616.7 L62.5,605.7 L67.5,606.9 L72.5,626.3 L77.5,621.0 L82.5,632.8 L87.5,632.8 L92.5,632.2 L97.5,633.9 L102.5,627.2 L107.5,643.2 L112.5,661.7 L117.5,692.8 L122.5,698.0 L128.5,700.5 L133.5,704.4 L138.5,688.3 L143.5,688.8 L148.5,682.4 L153.5,685.0 L158.5,684.9 L163.5,656.5 L168.5,646.5 L173.5,661.4 L178.5,675.4 L183.5,673.0 L188.5,663.6 L193.5,647.3 L198.5,642.5 L203.5,619.1 L208.5,614.8 L213.5,615.6 L218.5,627.6 L224.5,617.8 L229.5,614.5 L234.5,602.3 L239.5,589.4 L244.5,596.2 L249.5,583.0 L254.5,575.9 L259.5,575.4 L264.5,569.7 L269.5,574.8 L274.5,591.1 L279.5,586.4 L284.5,628.2 L289.5,619.8 L294.5,593.5 L299.5,611.7 L304.5,613.3 L309.5,603.8 L314.5,623.8 L320.5,613.9 L325.5,627.5 L330.5,620.7 L335.5,617.4 L340.5,596.2 L345.5,620.3 L350.5,610.1 L355.5,590.2 L360.5,600.8 L365.5,597.1 L370.5,605.9 L375.5,618.1 L380.5,622.7 L385.5,604.3 L390.5,614.1 L395.5,652.8 L400.5,646.3 L405.5,643.3 L411.5,652.0 L416.5,658.9 L421.5,637.1 L426.5,612.4 L431.5,633.3 L436.5,628.0 L441.5,629.8 L446.5,641.0 L451.5,648.3 L456.5,658.2 L461.5,651.7 L466.5,654.6 L471.5,670.2 L476.5,660.4 L481.5,650.2 L486.5,656.4 L491.5,657.7 L496.5,637.5 L501.5,651.2 L507.5,673.1 L512.5,678.7 L517.5,675.5 L522.5,686.2 L527.5,690.7 L532.5,704.4 L537.5,722.7 L542.5,735.0 L547.5,739.4 L552.5,699.1 L557.5,675.3 L562.5,665.1 L567.5,688.0 L572.5,678.4 L577.5,654.5 L582.5,662.3 L587.5,659.1 L592.5,677.6 L597.5,661.4 L603.5,646.3 L608.5,629.1 L613.5,629.1 L618.5,636.7 L623.5,631.4 L628.5,646.3 L633.5,646.9 L638.5,639.8 L643.5,648.4 L648.5,647.0 L653.5,635.6 L658.5,635.2 L663.5,634.2 L668.5,636.2 L673.5,636.1 L678.5,646.0 L683.5,648.1 L688.5,652.4 L693.5,648.1 L699.5,630.3 L704.5,628.0 L709.5,643.7 L714.5,631.9 L719.5,621.1 L724.5,619.4 L729.5,604.3 L734.5,613.6 L739.5,600.1 L744.5,666.3 L749.5,667.4 L754.5,686.4 L759.5,677.6 L764.5,678.6 L769.5,670.0 L774.5,654.2 L779.5,669.3 L784.5,661.0 L789.5,661.6 L795.5,654.0 L800.5,668.3 L805.5,674.8 L810.5,666.6 L815.5,662.4 L820.5,665.6 L825.5,664.1 L830.5,691.5 L835.5,689.8 L840.5,712.4 L845.5,697.5 L850.5,690.3 L855.5,690.5 L860.5,692.4 L865.5,693.4 L870.5,669.3 L875.5,647.7 L880.5,631.6 L886.5,614.3 L891.5,635.9 L896.5,630.0 L901.5,627.3 L906.5,628.9 L911.5,637.7 L916.5,633.3 L921.5,668.1 L926.5,664.2 L931.5,661.1 L936.5,651.6 L941.5,635.6 L946.5,639.4 L951.5,631.5 L956.5,644.3 L961.5,624.5 L966.5,618.2 L971.5,615.6 L976.5,630.1 L982.5,668.8 L987.5,651.3 L992.5,662.3 L997.5,663.6 L1002.5,659.3 L1007.5,707.9 L1012.5,705.3 L1017.5,705.7 L1022.5,705.7 L1027.5,719.8 L1032.5,710.0 L1037.5,699.5 L1042.5,694.5 L1047.5,692.0 L1052.5,689.5 L1057.5,669.5 L1062.5,643.2 L1067.5,638.5 L1072.5,615.1 L1078.5,624.8 L1083.5,633.9 L1088.5,639.8 L1093.5,635.7 L1098.5,664.5 L1103.5,654.7 L1108.5,583.8 L1113.5,590.7 L1118.5,579.6 L1123.5,605.9 L1128.5,617.0 L1133.5,623.0 L1138.5,647.8 L1143.5,639.8 L1148.5,641.0 L1153.5,650.0 L1158.5,645.0 L1163.5,645.0 L1168.5,647.4 L1174.5,628.6 L1179.5,629.6" fill="none" stroke="#7e57c2" stroke-width="2" stroke-linejoin="round" clip-path="url(#cr)"/>
<g shape-rendering="crispEdges">
<rect x="9" y="26" width="1332" height="2" fill="#eef0f4"/>
<rect x="9" y="777" width="1332" height="2" fill="#eef0f4"/>
<rect x="9" y="26" width="2" height="753" fill="#eef0f4"/>
<rect x="1339" y="26" width="2" height="753" fill="#eef0f4"/>
<rect x="10" y="559" width="1330" height="1" fill="#e0e3eb"/>
<rect x="10" y="750" width="1330" height="1" fill="#e0e3eb"/>
<rect x="1276" y="27" width="1" height="750" fill="#e0e3eb"/>
</g>
<text x="18.20" y="45.80" fill="#131722" font-size="12" textLength="180.20" lengthAdjust="spacingAndGlyphs">Litecoin / TetherUS, 1D, BINANCE</text>
<text x="206.00" y="45.80" fill="#131722" font-size="12" textLength="7.30" lengthAdjust="spacingAndGlyphs">O</text>
<text x="214.90" y="45.80" fill="#ef5350" font-size="12" textLength="34.70" lengthAdjust="spacingAndGlyphs">101.85</text>
<text x="257.30" y="45.80" fill="#131722" font-size="12" textLength="6.70" lengthAdjust="spacingAndGlyphs">H</text>
<text x="265.60" y="45.80" fill="#ef5350" font-size="12" textLength="34.40" lengthAdjust="spacingAndGlyphs">103.63</text>
<text x="308.40" y="45.80" fill="#131722" font-size="12" textLength="4.50" lengthAdjust="spacingAndGlyphs">L</text>
<text x="314.00" y="45.80" fill="#ef5350" font-size="12" textLength="28.90" lengthAdjust="spacingAndGlyphs">99.56</text>
<text x="351.10" y="45.80" fill="#131722" font-size="12" textLength="6.00" lengthAdjust="spacingAndGlyphs">C</text>
<text x="358.40" y="45.80" fill="#ef5350" font-size="12" textLength="34.90" lengthAdjust="spacingAndGlyphs">101.68</text>
<text x="402.20" y="45.80" fill="#ef5350" font-size="12" textLength="77.10" lengthAdjust="spacingAndGlyphs">−0.17 (−0.17%)</text>
<text x="18.20" y="63.00" fill="#131722" font-size="12" textLength="96.00" lengthAdjust="spacingAndGlyphs">EMA (20, close, 0)</text>
<text x="122.20" y="63.00" fill="#2146c7" font-size="12" textLength="28.90" lengthAdjust="spacingAndGlyphs">96.73</text>
<text x="18.20" y="80.10" fill="#131722" font-size="12" textLength="90.00" lengthAdjust="spacingAndGlyphs">MA (50, close, 0)</text>
<text x="115.60" y="80.10" fill="#f23645" font-size="12" textLength="29.30" lengthAdjust="spacingAndGlyphs">90.35</text>
<text x="18.50" y="578.80" fill="#131722" font-size="12" textLength="75.50" lengthAdjust="spacingAndGlyphs">RSI (14, close)</text>
<text x="102.00" y="578.80" fill="#7e57c2" font-size="12" textLength="28.60" lengthAdjust="spacingAndGlyphs">58.15</text>
<text x="1284.50" y="83.37" fill="#131722" font-size="12" textLength="34.70" lengthAdjust="spacingAndGlyphs">112.00</text>
<text x="1284.50" y="117.03" fill="#131722" font-size="12" textLength="34.70" lengthAdjust="spacingAndGlyphs">108.00</text>
<text x="1284.50" y="150.70" fill="#131722" font-size="12" textLength="34.70" lengthAdjust="spacingAndGlyphs">104.00</text>
<text x="1284.50" y="184.37" fill="#131722" font-size="12" textLength="34.70" lengthAdjust="spacingAndGlyphs">100.00</text>
<text x="1284.50" y="218.03" fill="#131722" font-size="12" textLength="28.80" lengthAdjust="spacingAndGlyphs">96.00</text>
<text x="1284.50" y="251.70" fill="#131722" font-size="12" textLength="28.80" lengthAdjust="spacingAndGlyphs">92.00</text>
<text x="1284.50" y="285.37" fill="#131722" font-size="12" textLength="28.80" lengthAdjust="spacingAndGlyphs">88.00</text>
<text x="1284.50" y="319.03" fill="#131722" font-size="12" textLength="28.80" lengthAdjust="spacingAndGlyphs">84.00</text>
<text x="1284.50" y="352.70" fill="#131722" font-size="12" textLength="28.80" lengthAdjust="spacingAndGlyphs">80.00</text>
<text x="1284.50" y="386.37" fill="#131722" font-size="12" textLength="28.80" lengthAdjust="spacingAndGlyphs">76.00</text>
<text x="1284.50" y="420.03" fill="#131722" font-size="12" textLength="28.80" lengthAdjust="spacingAndGlyphs">72.00</text>
<text x="1284.50" y="453.70" fill="#131722" font-size="12" textLength="28.80" lengthAdjust="spacingAndGlyphs">68.00</text>
<text x="1284.50" y="487.37" fill="#131722" font-size="12" textLength="28.80" lengthAdjust="spacingAndGlyphs">64.00</text>
<text x="1284.50" y="521.04" fill="#131722" font-size="12" textLength="28.80" lengthAdjust="spacingAndGlyphs">60.00</text>
<text x="1284.50" y="554.70" fill="#131722" font-size="12" textLength="28.80" lengthAdjust="spacingAndGlyphs">56.00</text>
<g clip-path="url(#cra)">
<text x="1284.50" y="564.93" fill="#131722" font-size="12" textLength="28.80" lengthAdjust="spacingAndGlyphs">80.00</text>
<text x="1284.50" y="596.10" fill="#131722" font-size="12" textLength="28.80" lengthAdjust="spacingAndGlyphs">70.00</text>
<text x="1284.50" y="627.27" fill="#131722" font-size="12" textLength="28.80" lengthAdjust="spacingAndGlyphs">60.00</text>
<text x="1284.50" y="658.45" fill="#131722" font-size="12" textLength="28.80" lengthAdjust="spacingAndGlyphs">50.00</text>
<text x="1284.50" y="689.62" fill="#131722" font-size="12" textLength="28.80" lengthAdjust="spacingAndGlyphs">40.00</text>
<text x="1284.50" y="720.80" fill="#131722" font-size="12" textLength="28.80" lengthAdjust="spacingAndGlyphs">30.00</text>
<text x="1284.50" y="751.98" fill="#131722" font-size="12" textLength="28.80" lengthAdjust="spacingAndGlyphs">20.00</text>
</g>
<rect x="1280.5" y="31.5" width="55" height="25" rx="4" fill="#fff" stroke="#e0e3eb" stroke-width="1"/>
<rect x="1276" y="121" width="49" height="17" rx="2" fill="#0000ff"/>
<rect x="1276" y="121" width="3" height="17" fill="#0000ff"/>
<text x="1284.50" y="133.40" fill="#fff" font-size="12" textLength="34.70" lengthAdjust="spacingAndGlyphs">106.00</text>
<rect x="1219" y="158" width="56" height="17" rx="2" fill="#ef5350"/>
<rect x="1272" y="158" width="3" height="17" fill="#ef5350"/>
<text x="1223.20" y="170.50" fill="#fff" font-size="12" textLength="46.50" lengthAdjust="spacingAndGlyphs">LTCUSDT</text>
<rect x="1276" y="158" width="60" height="44.5" rx="2" fill="#ef5350"/>
<rect x="1276" y="158" width="3" height="44.5" fill="#ef5350"/>
<text x="1284.70" y="170.50" fill="#fff" font-size="12" textLength="34.80" lengthAdjust="spacingAndGlyphs">101.68</text>
<text x="1284.70" y="184.80" fill="#fff" font-size="12" textLength="41.80" lengthAdjust="spacingAndGlyphs">+29.23%</text>
<text x="1284.70" y="198.60" fill="#fff" font-size="12" textLength="45.80" lengthAdjust="spacingAndGlyphs" fill-opacity="0.8">07:31:50</text>
<rect x="1243" y="203" width="32" height="17" rx="2" fill="#0c3299"/>
<rect x="1272" y="203" width="3" height="17" fill="#0c3299"/>
<text x="1248.20" y="215.60" fill="#fff" font-size="12" textLength="21.50" lengthAdjust="spacingAndGlyphs">EMA</text>
<rect x="1276" y="203" width="43" height="17" rx="2" fill="#0c3299"/>
<rect x="1276" y="203" width="3" height="17" fill="#0c3299"/>
<text x="1284.70" y="215.60" fill="#fff" font-size="12" textLength="28.60" lengthAdjust="spacingAndGlyphs">96.73</text>
<rect x="1250" y="253" width="25" height="17" rx="2" fill="#f23645"/>
<rect x="1272" y="253" width="3" height="17" fill="#f23645"/>
<text x="1254.60" y="265.60" fill="#fff" font-size="12" textLength="15.10" lengthAdjust="spacingAndGlyphs">MA</text>
<rect x="1276" y="253" width="43" height="17" rx="2" fill="#f23645"/>
<rect x="1276" y="253" width="3" height="17" fill="#f23645"/>
<text x="1284.70" y="265.60" fill="#fff" font-size="12" textLength="28.60" lengthAdjust="spacingAndGlyphs">90.35</text>
<rect x="1249" y="621" width="26" height="17" rx="2" fill="#7e57c2"/>
<rect x="1272" y="621" width="3" height="17" fill="#7e57c2"/>
<text x="1254.20" y="634.00" fill="#fff" font-size="12" textLength="15.60" lengthAdjust="spacingAndGlyphs">RSI</text>
<rect x="1276" y="621" width="43" height="17" rx="2" fill="#7e57c2"/>
<rect x="1276" y="621" width="3" height="17" fill="#7e57c2"/>
<text x="1284.40" y="634.00" fill="#fff" font-size="12" textLength="28.90" lengthAdjust="spacingAndGlyphs">58.15</text>
<g clip-path="url(#ct)">
<text x="33.00" y="767.80" fill="#131722" font-size="12" textLength="19.00" lengthAdjust="spacingAndGlyphs">Dec</text>
<text x="185.00" y="767.80" fill="#131722" font-size="12" textLength="27.00" lengthAdjust="spacingAndGlyphs" font-weight="bold">2023</text>
<text x="346.00" y="767.80" fill="#131722" font-size="12" textLength="19.00" lengthAdjust="spacingAndGlyphs">Feb</text>
<text x="487.25" y="767.80" fill="#131722" font-size="12" textLength="18.50" lengthAdjust="spacingAndGlyphs">Mar</text>
<text x="644.75" y="767.80" fill="#131722" font-size="12" textLength="17.50" lengthAdjust="spacingAndGlyphs">Apr</text>
<text x="795.25" y="767.80" fill="#131722" font-size="12" textLength="20.50" lengthAdjust="spacingAndGlyphs">May</text>
<text x="952.25" y="767.80" fill="#131722" font-size="12" textLength="18.50" lengthAdjust="spacingAndGlyphs">Jun</text>
<text x="1106.00" y="767.80" fill="#131722" font-size="12" textLength="15.00" lengthAdjust="spacingAndGlyphs">Jul</text>
<text x="1260.00" y="767.80" fill="#131722" font-size="12" textLength="21.00" lengthAdjust="spacingAndGlyphs">Aug</text>
</g>
<circle cx="1179.5" cy="546.4" r="9.6" fill="#fff" stroke="#9c27b0" stroke-width="1.5"/>
<polygon points="1182.8,541.1 1175.3,546.7 1179.0,546.9 1176.2,551.7 1183.7,546.0 1180.2,545.7" fill="#9c27b0"/>
<g fill="#131722">
<path d="M10,790.2 H18 V799.7 H13.8 V794 H10 Z"/>
<circle cx="21.3" cy="792" r="1.9"/>
<path d="M25,790.2 H29.9 L26,799.7 H21.3 Z"/>
</g>
<text x="33.10" y="799.70" fill="#1e222d" font-size="13" textLength="69.70" lengthAdjust="spacingAndGlyphs">TradingView</text>
</svg></body></html>
